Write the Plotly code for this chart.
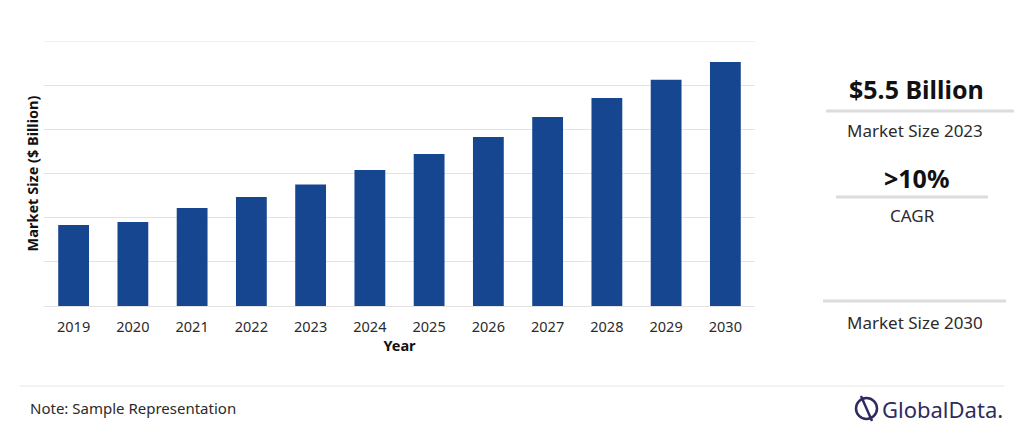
import plotly.graph_objects as go

years = ["2019", "2020", "2021", "2022", "2023", "2024", "2025", "2026", "2027", "2028", "2029", "2030"]
market_size = [3.67, 3.80, 4.44, 4.94, 5.5, 6.16, 6.88, 7.65, 8.56, 9.42, 10.24, 11.05]

headline_value = "$5.5 Billion"
headline_label = "Market Size 2023"
cagr_value = ">10%"
cagr_label = "CAGR"
end_label = "Market Size 2030"
note_text = "Note: Sample Representation"

FONT = "Noto Sans, Open Sans, sans-serif"
BAR = "#16468F"
TXT = "#2b2b2b"
GRID = "#e3e3e3"

# page has an 8px body margin; figure sized to fill the rest
OFF = 8
W, H = 1024 - OFF, 444 - OFF
def px(x): return (x - OFF) / W
def py(y): return 1 - (y - OFF) / H

fig = go.Figure()
fig.add_trace(go.Bar(x=years, y=market_size, marker=dict(color=BAR, line=dict(width=0)), width=0.52))

fig.update_layout(
    width=W, height=H,
    margin=dict(l=0, r=0, t=0, b=0, autoexpand=False),
    plot_bgcolor="white", paper_bgcolor="white",
    showlegend=False,
    font=dict(family=FONT, color=TXT),
)
fig.update_xaxes(
    domain=[px(44), px(755)],
    type="category", range=[-0.5, 11.5],
    showgrid=False, showline=False, zeroline=False,
    tickfont=dict(size=14.5, color=TXT, family=FONT), ticks="", ticklabelstandoff=10,
    title=dict(text="<b>Year</b>", font=dict(size=14.5, color="#111", family=FONT), standoff=0),
)
fig.update_yaxes(
    domain=[py(306), py(41)],
    range=[0, 12], dtick=2, showticklabels=False,
    showgrid=True, gridcolor=GRID, gridwidth=1,
    zeroline=True, zerolinecolor=GRID, zerolinewidth=1,
    title=dict(text="<b>Market Size ($ Billion)</b>", font=dict(size=14.5, color="#111", family=FONT), standoff=0),
)

shapes = []
# top gridline (range edge)
shapes.append(dict(type="line", xref="x domain", yref="y", x0=0, x1=1, y0=12, y1=12,
                   line=dict(color=GRID, width=1), layer="below"))
def hline(x0, x1, y, color="#dcdcdc", w=3):
    shapes.append(dict(type="line", xref="paper", yref="paper", x0=px(x0), x1=px(x1), y0=py(y), y1=py(y),
                       line=dict(color=color, width=w)))
hline(826, 1014, 111)
hline(836, 988, 197)
hline(823, 1006, 301)
hline(20, 1004, 386, color="#e6e6e6", w=1)
# logo icon
shapes.append(dict(type="circle", xref="paper", yref="paper",
                   x0=px(856), x1=px(877), y0=py(419), y1=py(398),
                   line=dict(color="#2e2b5f", width=2.5)))
shapes.append(dict(type="line", xref="paper", yref="paper",
                   x0=px(861), x1=px(872), y0=py(396), y1=py(421),
                   line=dict(color="#2e2b5f", width=2.5)))
fig.update_layout(shapes=shapes)

annotations = []
def txt(x, y, s, size, color=TXT, bold=False, xanchor="center"):
    annotations.append(dict(x=px(x), y=py(y), xref="paper", yref="paper", showarrow=False,
                            text=f"<b>{s}</b>" if bold else s, xanchor=xanchor, yanchor="middle",
                            font=dict(size=size, color=color, family=FONT)))
txt(916, 89, headline_value, 25, color="#111", bold=True)
txt(915, 131, headline_label, 17)
txt(916, 178, cagr_value, 25, color="#111", bold=True)
txt(912, 215, cagr_label, 17)
txt(915, 322, end_label, 17)
txt(28, 408, note_text, 15, xanchor="left")
txt(880, 409, "GlobalData.", 22, color="#2e2b5f", xanchor="left")
fig.update_layout(annotations=annotations)

fig.write_html("out.html")
